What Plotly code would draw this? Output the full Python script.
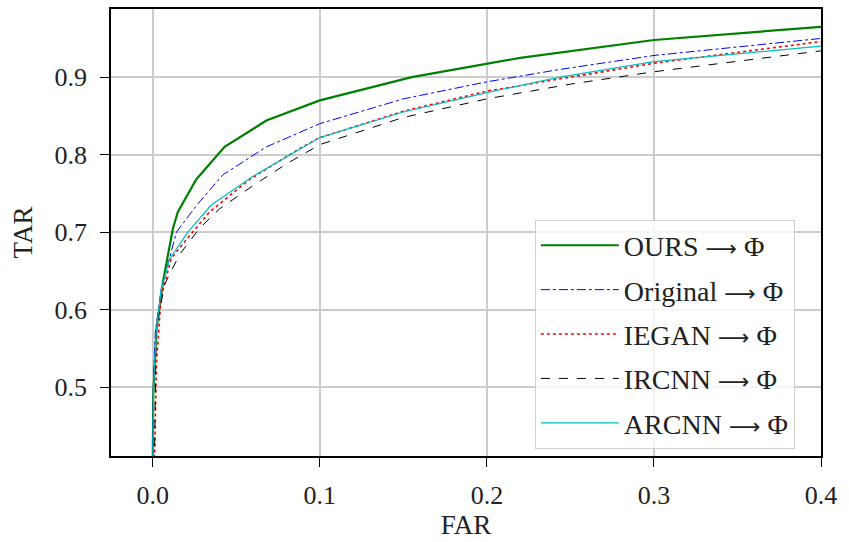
import plotly.graph_objects as go

# ---- data ----
ours_far = [0.0, 0.0003, 0.0022, 0.0062, 0.012, 0.015, 0.026, 0.043, 0.068, 0.10, 0.155, 0.22, 0.30, 0.40]
ours_tar = [0.40, 0.489, 0.574, 0.637, 0.704, 0.726, 0.768, 0.810, 0.844, 0.870, 0.900, 0.925, 0.948, 0.965]

orig_far = [0.0, 0.0003, 0.0015, 0.005, 0.0142, 0.026, 0.042, 0.068, 0.10, 0.15, 0.20, 0.2437, 0.30, 0.40]
orig_tar = [0.40, 0.500, 0.570, 0.626, 0.700, 0.734, 0.774, 0.810, 0.840, 0.872, 0.894, 0.910, 0.928, 0.950]

iegan_far = [0.001, 0.0015, 0.0022, 0.005, 0.011, 0.020, 0.034, 0.058, 0.088, 0.10, 0.15, 0.20, 0.2437, 0.30, 0.40]
iegan_tar = [0.40, 0.480, 0.531, 0.616, 0.666, 0.690, 0.726, 0.768, 0.808, 0.822, 0.856, 0.882, 0.898, 0.918, 0.946]

ircnn_far = [0.001, 0.0015, 0.002, 0.007, 0.016, 0.028, 0.040, 0.060, 0.080, 0.10, 0.15, 0.20, 0.25, 0.30, 0.40]
ircnn_tar = [0.40, 0.500, 0.573, 0.632, 0.671, 0.705, 0.730, 0.760, 0.788, 0.813, 0.848, 0.872, 0.891, 0.907, 0.934]

arcnn_far = [0.0, 0.0005, 0.002, 0.005, 0.010, 0.021, 0.035, 0.060, 0.10, 0.15, 0.20, 0.2437, 0.30, 0.40]
arcnn_tar = [0.40, 0.500, 0.570, 0.625, 0.665, 0.700, 0.735, 0.772, 0.822, 0.855, 0.880, 0.900, 0.920, 0.940]

methods = ["OURS", "Original", "IEGAN", "IRCNN", "ARCNN"]
target = "Φ"
x_ticks = [0.0, 0.1, 0.2, 0.3, 0.4]
y_ticks = [0.5, 0.6, 0.7, 0.8, 0.9]

FONT = "Liberation Serif"
ARROW = "<span style='font-family:DejaVu Sans;font-size:22px'>⟶</span>"
names = [f"{m} {ARROW} {target}" for m in methods]

series = [
    (ours_far, ours_tar, names[0], dict(color="#008000", width=2.2, dash="solid")),
    (orig_far, orig_tar, names[1], dict(color="#0000ff", width=1.0, dash="dashdot")),
    (iegan_far, iegan_tar, names[2], dict(color="#ff0000", width=1.6, dash="dot")),
    (ircnn_far, ircnn_tar, names[3], dict(color="#000000", width=1.0, dash="dash")),
    (arcnn_far, arcnn_tar, names[4], dict(color="#00bfbf", width=1.2, dash="solid")),
]

fig = go.Figure()
for i, (x, y, n, ln) in enumerate(series):
    fig.add_trace(go.Scatter(x=x, y=y, mode="lines", name=n, line=ln, legendgroup=str(i)))

axis_common = dict(
    showline=True, linecolor="black", linewidth=1.6, mirror=True,
    ticks="outside", ticklen=9, tickwidth=1.4, tickcolor="black",
    showgrid=True, gridcolor="#cccccc", gridwidth=2,
    zeroline=False, tickfont=dict(family=FONT, size=26, color="#222222"),
    tickformat=".1f",
)

fig.update_layout(
    width=849, height=542,
    margin=dict(l=111, r=28, t=7, b=81),
    paper_bgcolor="white", plot_bgcolor="white",
    font=dict(family=FONT, size=26, color="#222222"),
    xaxis=dict(range=[-0.025, 0.4], tickvals=x_ticks, ticklabelstandoff=6,
               title=dict(text="FAR", font=dict(family=FONT, size=27), standoff=6),
               **axis_common),
    yaxis=dict(range=[0.411, 0.988], tickvals=y_ticks, ticklabelstandoff=8,
               title=dict(text="TAR", font=dict(family=FONT, size=27), standoff=14),
               **axis_common),
    legend=dict(
        x=0.597, y=0.529, xanchor="left", yanchor="top",
        bgcolor="rgba(255,255,255,0.8)", bordercolor="#d0d0d0", borderwidth=1,
        font=dict(family=FONT, size=28, color="#222222"),
        tracegroupgap=5, itemwidth=78,
    ),
    showlegend=True,
)

fig.write_html("out.html", config={"displayModeBar": False},
               post_script="document.body.style.margin='0';")
